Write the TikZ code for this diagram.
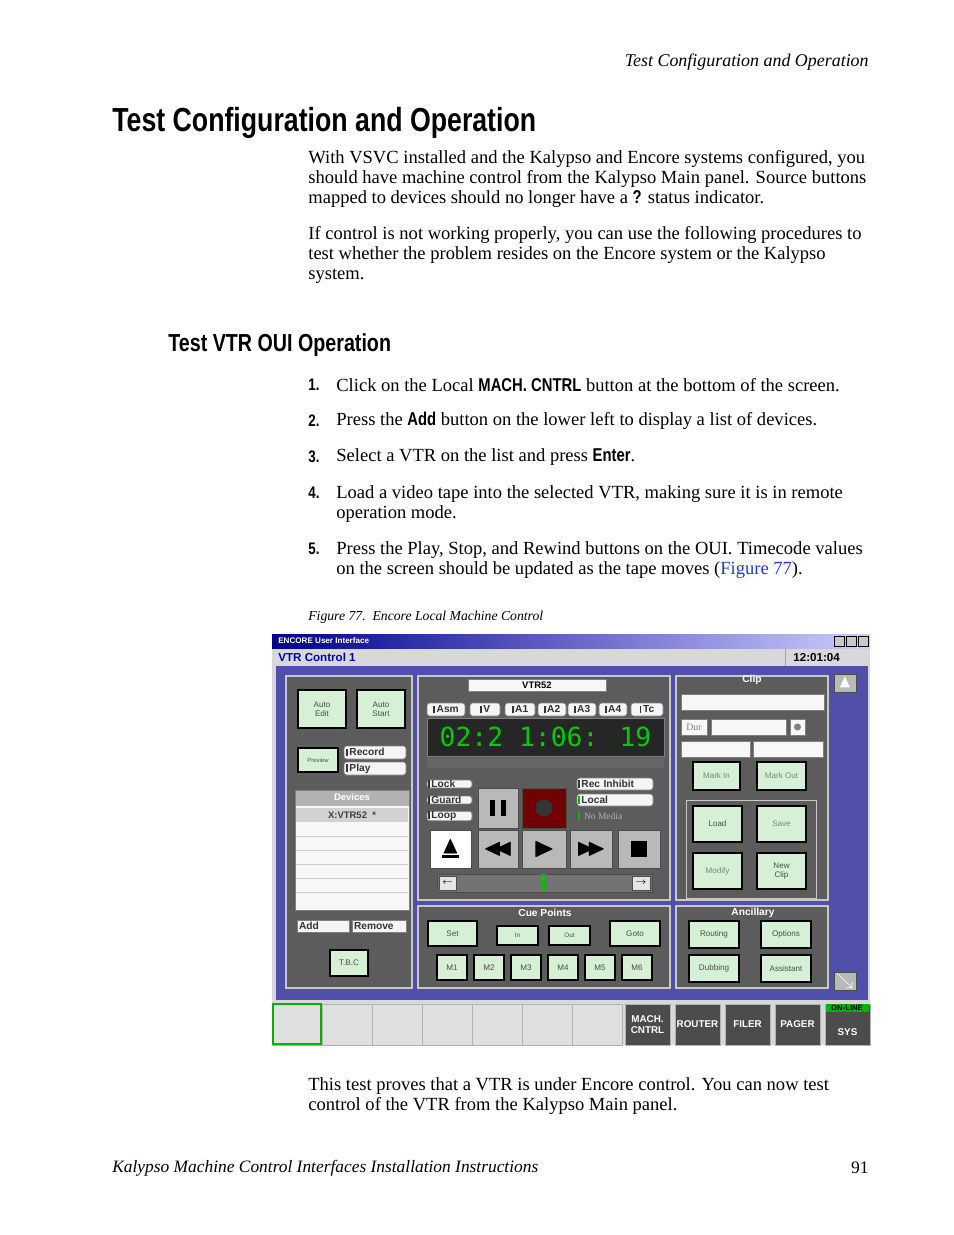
\documentclass[tikz,border=0pt]{standalone}
\usepackage{amssymb}
\usepackage{fontspec}
\setmainfont{Liberation Serif}
\newfontfamily\headfont[FakeStretch=0.8]{Liberation Sans Bold}
\newfontfamily\guifont{Liberation Sans}
\newfontfamily\lcdfont{DejaVu Sans Mono}
\usepackage{tikz}
\usetikzlibrary{positioning}

\definecolor{guiblue}{RGB}{80,80,170}
\definecolor{guipanel}{RGB}{92,92,92}
\definecolor{guibtn}{RGB}{214,240,214}
\definecolor{guilight}{RGB}{200,200,200}
\definecolor{linkblue}{RGB}{30,60,200}

\tikzset{
    body/.style={anchor=west, inner sep=0, font=\fontsize{10.55}{11.4}\selectfont},
    panel/.style={draw=guilight, fill=guipanel, line width=0.6pt},
    btn/.style={draw=black, fill=guibtn, line width=0.9pt, inner sep=0, align=center,
        font=\guifont\fontsize{4.6}{5}\selectfont, text=black!70},
    tag/.style={draw=gray, fill=white!92!gray, rounded corners=1.5pt, inner sep=0,
        font=\guifont\bfseries\fontsize{5.8}{6}\selectfont, text=black!80},
    field/.style={draw=gray, fill=white!94!gray, inner sep=0},
    tport/.style={draw=black!70, fill=gray!55, inner sep=0},
    tab/.style={draw=gray!60, fill=black!70, inner sep=0, align=center,
        font=\guifont\bfseries\fontsize{5.6}{6.4}\selectfont, text=white}
}

% box from corner (x1,y1) to corner (x2,y2), in pixels
\newcommand{\guibox}[7][]{%
    \node[#2, minimum width={(#5-#3)*0.02cm}, minimum height={(#6-#4)*0.02cm}, #1]
        (#7) at ({(#3+#5)/2},{(#4+#6)/2})}
\newcommand{\tagmark}{\rule[-0.3pt]{1pt}{4.5pt}\,}

\begin{document}
\begin{tikzpicture}[x=0.02cm, y=-0.02cm]
    \useasboundingbox (0,0) rectangle (954,1235);

    % Page text
    \node (hdr) [anchor=east, inner sep=0, font=\itshape\fontsize{10.2}{12}\selectfont] at (869,62)
        {Test Configuration and Operation};
    \node (ttl) [anchor=west, inner sep=0, font=\headfont\fontsize{19}{22}\selectfont] at (112,123)
        {Test Configuration and Operation};
    \node (par1) [body, anchor=north west, align=left] at (308,150)
        {With VSVC installed and the Kalypso and Encore systems configured, you\\
         should have machine control from the Kalypso Main panel. Source buttons\\
         mapped to devices should no longer have a {\headfont ?} status indicator.};
    \node (par2) [body, anchor=north west, align=left] at (308,226)
        {If control is not working properly, you can use the following procedures to\\
         test whether the problem resides on the Encore system or the Kalypso\\
         system.};
    \node (sub) [anchor=west, inner sep=0, font=\headfont\fontsize{14}{16}\selectfont] at (168,345)
        {Test VTR OUI Operation};

    % Steps
    \foreach \n/\y in {1/385, 2/421, 3/457, 4/493, 5/549}
        \node (num\n) [body, font=\headfont\fontsize{9.5}{11}\selectfont] at (308,\y) {\n.};
    \node (st1) [body] at (336,385) {Click on the Local {\headfont MACH. CNTRL} button at the bottom of the screen.};
    \node (st2) [body] at (336,421) {Press the {\headfont Add} button on the lower left to display a list of devices.};
    \node (st3) [body] at (336,457) {Select a VTR on the list and press {\headfont Enter}.};
    \node (st4) [body, anchor=north west, align=left] at (336,485)
        {Load a video tape into the selected VTR, making sure it is in remote\\operation mode.};
    \node (st5) [body, anchor=north west, align=left] at (336,541)
        {Press the Play, Stop, and Rewind buttons on the OUI. Timecode values\\
         on the screen should be updated as the tape moves ({\color{linkblue}Figure 77}).};
    \node (cap) [anchor=west, inner sep=0, font=\itshape\fontsize{7.8}{9}\selectfont] at (308,617)
        {Figure 77.\ \ Encore Local Machine Control};
    \node (par3) [body, anchor=north west, align=left] at (308,1077)
        {This test proves that a VTR is under Encore control. You can now test\\
         control of the VTR from the Kalypso Main panel.};
    \node (ftl) [anchor=west, inner sep=0, font=\itshape\fontsize{9.9}{12}\selectfont] at (112,1168)
        {Kalypso Machine Control Interfaces Installation Instructions};
    \node (ftr) [anchor=east, inner sep=0, font=\fontsize{10}{12}\selectfont] at (869,1168) {91};

    % Screenshot: window frame
    \fill[guilight!70] (272,634) rectangle (870,1045);
    \shade[left color=blue!55!black, right color=blue!20!white] (272,634) rectangle (870,648);
    \node (wtitle) [anchor=west, inner sep=0, text=white, font=\guifont\bfseries\fontsize{4.6}{5}\selectfont]
        at (278,641) {ENCORE User Interface};
    \foreach \x in {834,846,858}
        \draw[fill=guilight] (\x,636) rectangle ++(10,10);
    \node (vtrc) [anchor=west, inner sep=0, text=blue!70!black, font=\guifont\bfseries\fontsize{6.6}{7}\selectfont]
        at (278,657) {VTR Control 1};
    \node (clock) [anchor=west, inner sep=0, font=\guifont\bfseries\fontsize{6.6}{7}\selectfont]
        at (793,657) {12:01:04};
    \draw[gray!70] (785,649) -- (785,666);
    \fill[guiblue] (276,666) rectangle (868,1000);

    % Panels
    \guibox{panel}{286}{676}{412}{988}{pnl} {};
    \guibox{panel}{418}{676}{670}{900}{pnc} {};
    \guibox{panel}{676}{676}{828}{900}{pnr} {};
    \guibox{panel}{418}{906}{670}{988}{pcue} {};
    \guibox{panel}{676}{906}{828}{988}{panc} {};
    \guibox{tport}{834}{674}{856}{692}{up} {\color{white}$\blacktriangle$};
    \guibox{tport}{834}{972}{856}{990}{dn} {\color{white}$\searrow$};

    % Left panel
    \guibox{btn}{298}{690}{346}{728}{aedit} {Auto\\Edit};
    \guibox{btn}{357}{690}{405}{728}{astart} {Auto\\Start};
    \guibox[font=\guifont\fontsize{3.4}{4}\selectfont]{btn}{298}{748}{338}{772}{prev} {Preview};
    \guibox[align=left, text width=58*0.02cm]{tag}{344}{746}{406}{759}{rec} {\tagmark Record};
    \guibox[align=left, text width=58*0.02cm]{tag}{344}{762}{406}{775}{play} {\tagmark Play};
    \guibox{field}{295}{790}{409}{910}{devs} {};
    \fill[gray!60] (295.5,790.5) rectangle (408.5,806);
    \node (devh) [inner sep=0, text=white, font=\guifont\bfseries\fontsize{5.4}{6}\selectfont] at (352,797) {Devices};
    \fill[gray!35] (296,808) rectangle (408,822);
    \node (dev1) [inner sep=0, font=\guifont\bfseries\fontsize{5.4}{6}\selectfont, text=black!75] at (352,815) {X:VTR52\ \ *};
    \foreach \y in {836,850,864,878,892}
        \draw[gray!40] (296,\y) -- (408,\y);
    \guibox[rounded corners=0, align=left, text width=48*0.02cm]{tag}{297}{920}{349}{932}{add} {Add};
    \guibox[rounded corners=0, align=left, text width=50*0.02cm]{tag}{352}{920}{406}{932}{rem} {Remove};
    \guibox{btn}{330}{950}{368}{976}{tbc} {T.B.C};

    % Timecode area
    \guibox{field}{468}{679}{606}{691}{vtr} {\guifont\bfseries\fontsize{5.4}{6}\selectfont VTR52};
    \foreach \a/\b/\t in {427/465/Asm, 470/500/V, 505/535/A1, 538/566/A2, 568/596/A3, 599/627/A4, 631/663/Tc}
        \guibox{tag}{\a}{703}{\b}{716}{t\t} {\tagmark\t};
    \guibox[fill=black!85, draw=gray]{field}{427}{718}{664}{756}{lcd}
        {\lcdfont\fontsize{15}{15}\selectfont\color{green!80!black}02:2 1:06: 19};
    \fill[black!60] (427,758) rectangle (664,768);
    \foreach \t/\y in {Lock/784, Guard/800, Loop/816}
        \guibox[align=left, text width=43*0.02cm]{tag}{427}{\y-6}{472}{\y+6}{t\t} {\tagmark\t};
    \guibox[align=left, text width=74*0.02cm]{tag}{577}{778}{653}{790}{rinh} {\tagmark Rec Inhibit};
    \guibox[align=left, text width=74*0.02cm]{tag}{577}{794}{653}{806}{loc} {{\color{green!70!black}\tagmark}Local};
    \node (nomed) [anchor=west, inner sep=0, text=gray!60, font=\fontsize{5.4}{6}\selectfont] at (578,816)
        {{\color{green!70!black}\tagmark} No Media};

    % Transport buttons
    \guibox{tport}{478}{788}{518}{828}{paus} {\rule{3pt}{9pt}\,\,\rule{3pt}{9pt}};
    \guibox[fill=red!45!black]{tport}{522}{788}{566}{828}{recb} {\tikz\fill[black!80] circle (5pt);};
    \guibox[fill=white, align=center]{tport}{430}{830}{471}{868}{ejct} {\fontsize{14}{14}\selectfont$\blacktriangle$\\[-9pt]\rule{10pt}{2pt}};
    \guibox{tport}{478}{830}{518}{868}{rew} {\fontsize{14}{14}\selectfont$\blacktriangleleft\!\!\blacktriangleleft$};
    \guibox{tport}{522}{830}{566}{868}{plb} {\fontsize{16}{16}\selectfont$\blacktriangleright$};
    \guibox{tport}{570}{830}{612}{868}{ffw} {\fontsize{14}{14}\selectfont$\blacktriangleright\!\!\blacktriangleright$};
    \guibox{tport}{618}{830}{660}{868}{stp} {\rule{9pt}{9pt}};
    \guibox[fill=black!55]{tport}{437}{874}{652}{892}{sldr} {};
    \guibox[fill=gray!20]{tport}{439}{876}{456}{890}{sll} {\tiny$\leftarrow$};
    \guibox[fill=gray!20]{tport}{632}{876}{650}{890}{slr} {\tiny$\rightarrow$};
    \fill[green!75!black] (541,874) rectangle (546,892);

    % Clip panel
    \node (cliph) [inner sep=0, text=white, font=\guifont\bfseries\fontsize{5.8}{6}\selectfont] at (752,680) {Clip};
    \guibox{field}{681}{694}{824}{710}{clip} {};
    \guibox[text=gray, font=\fontsize{5.6}{6}\selectfont]{field}{681}{719}{707}{735}{dur} {Dur};
    \guibox{field}{711}{719}{786}{735}{durv} {};
    \guibox{field}{790}{719}{805}{735}{durb} {\tikz\fill[gray] circle (2pt);};
    \guibox{field}{681}{741}{750}{757}{fin} {};
    \guibox{field}{753}{741}{823}{757}{fout} {};
    \guibox[text=gray]{btn}{693}{762}{740}{790}{mkin} {Mark In};
    \guibox[text=gray]{btn}{757}{762}{806}{790}{mkout} {Mark Out};
    \draw[guilight] (686,800) rectangle (816,898);
    \guibox{btn}{693}{806}{742}{842}{load} {Load};
    \guibox[text=gray]{btn}{757}{806}{806}{842}{save} {Save};
    \guibox[text=gray]{btn}{693}{853}{742}{889}{mod} {Modify};
    \guibox{btn}{757}{853}{806}{889}{nclip} {New\\Clip};

    % Cue points and ancillary
    \node (cueh) [inner sep=0, text=white, font=\guifont\bfseries\fontsize{5.8}{6}\selectfont] at (545,913) {Cue Points};
    \guibox{btn}{428}{921}{477}{946}{set} {Set};
    \guibox[font=\guifont\fontsize{3.6}{4}\selectfont]{btn}{497}{926}{538}{945}{cin} {In};
    \guibox[font=\guifont\fontsize{3.6}{4}\selectfont]{btn}{549}{926}{590}{945}{cout} {Out};
    \guibox{btn}{610}{921}{660}{946}{goto} {Goto};
    \foreach \i/\x in {1/437, 2/474, 3/511, 4/548, 5/585, 6/622}
        \guibox{btn}{\x}{955}{\x+30}{980}{m\i} {M\i};
    \node (anch) [inner sep=0, text=white, font=\guifont\bfseries\fontsize{5.8}{6}\selectfont] at (753,913) {Ancillary};
    \guibox{btn}{689}{921}{739}{948}{rout} {Routing};
    \guibox{btn}{761}{921}{811}{948}{opts} {Options};
    \guibox{btn}{689}{955}{739}{982}{dub} {Dubbing};
    \guibox{btn}{761}{955}{811}{982}{asst} {Assistant};

    % Bottom tab bar
    \foreach \i in {0,...,6}
        \draw[gray!60, fill=gray!25] (272+50*\i,1004) rectangle ++(50,41);
    \draw[green!70!black, line width=1pt] (273,1004) rectangle (321,1044);
    \guibox{tab}{625}{1004}{670}{1045}{mach} {MACH.\\CNTRL};
    \guibox{tab}{675}{1004}{720}{1045}{rtr} {ROUTER};
    \guibox{tab}{725}{1004}{770}{1045}{filr} {FILER};
    \guibox{tab}{775}{1004}{820}{1045}{pagr} {PAGER};
    \guibox[align=center]{tab}{825}{1004}{870}{1045}{sys} {\\[6pt]SYS};
    \fill[green!70!black] (826,1004) rectangle (869,1012);
    \node (onl) [inner sep=0, text=black, font=\guifont\bfseries\fontsize{4.4}{5}\selectfont] at (847,1008) {ON-LINE};
\end{tikzpicture}
\end{document}
